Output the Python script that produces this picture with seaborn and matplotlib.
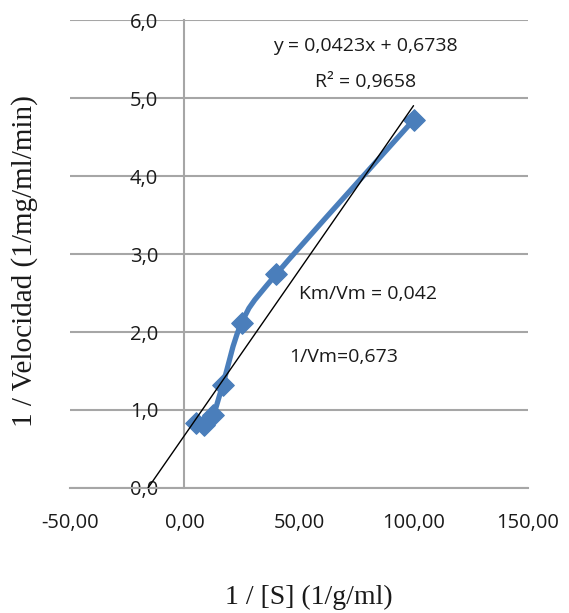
import numpy as np
import pandas as pd
import matplotlib
matplotlib.use("Agg")
import matplotlib.pyplot as plt
from matplotlib.path import Path
from matplotlib.patches import PathPatch
from matplotlib.ticker import FuncFormatter
import seaborn as sns

# data
inv_s = [5.0, 8.33, 12.5, 16.67, 25.0, 40.0, 100.0]
inv_v = [0.83, 0.81, 0.94, 1.32, 2.12, 2.74, 4.72]
slope = 0.0423
intercept = 0.6738
trend_x = [-15.93, 100.0]
x_ticks = [-50, 0, 50, 100, 150]
y_ticks = [0, 1, 2, 3, 4, 5, 6]

df = pd.DataFrame({"inv_s": inv_s, "inv_v": inv_v})

sns.set_style("white")
plt.rcParams["font.family"] = ["Open Sans", "DejaVu Sans"]

blue = "#4A7EBB"
grey = "#A6A6A6"
txt = "#1a1a1a"

fig = plt.figure(figsize=(5.69, 6.13), dpi=100)
ax = fig.add_axes([0.123, 0.204, 0.805, 0.763])

# smoothed line (Excel style bezier through the points)
pts = np.column_stack([inv_s, inv_v])
ext = np.vstack([pts[0], pts, pts[-1]])
verts = [tuple(pts[0])]
codes = [Path.MOVETO]
for i in range(1, len(ext) - 2):
    p0, p1, p2, p3 = ext[i - 1], ext[i], ext[i + 1], ext[i + 2]
    c1 = p1 + (p2 - p0) / 6
    c2 = p2 - (p3 - p1) / 6
    verts += [tuple(c1), tuple(c2), tuple(p2)]
    codes += [Path.CURVE4] * 3
ax.add_patch(PathPatch(Path(verts, codes), fill=False, edgecolor=blue,
                       lw=3.8, capstyle="round", joinstyle="round", zorder=3))

sns.scatterplot(data=df, x="inv_s", y="inv_v", marker="D", s=120,
                color=blue, edgecolor=blue, ax=ax, zorder=4, legend=False)

# linear trendline
tx = np.array(trend_x)
ax.plot(tx, slope * tx + intercept, color="black", lw=1.0, zorder=5)

ax.set_xlim(-50, 150)
ax.set_ylim(0, 6)
ax.set_xticks(x_ticks)
ax.set_yticks(y_ticks)
ax.xaxis.set_major_formatter(FuncFormatter(lambda v, p: f"{v:.2f}".replace(".", ",")))
ax.yaxis.set_major_formatter(FuncFormatter(lambda v, p: f"{v:.1f}".replace(".", ",")))

for s in ["top", "right"]:
    ax.spines[s].set_visible(False)
ax.spines["left"].set_position(("data", 0))
ax.spines["left"].set_color(grey)
ax.spines["bottom"].set_color(grey)
ax.spines["left"].set_linewidth(1.5)
ax.spines["bottom"].set_linewidth(1.5)
ax.yaxis.grid(True, color=grey, lw=1.5)
ax.set_axisbelow(True)
ax.tick_params(axis="x", length=6, width=1.5, color=grey, labelsize=14.5,
               labelcolor=txt, pad=12, direction="out")
ax.tick_params(axis="y", length=0, labelsize=14.5, labelcolor=txt, pad=19)
for lab in ax.get_yticklabels():
    lab.set_zorder(6)
ax.set_xlabel("")
ax.set_ylabel("")

ax.text(0.645, 0.945, "y = 0,0423x + 0,6738", transform=ax.transAxes,
        ha="center", va="center", fontsize=14, color=txt)
ax.text(0.645, 0.868, "R² = 0,9658", transform=ax.transAxes,
        ha="center", va="center", fontsize=14, color=txt)
ax.text(0.500, 0.415, "Km/Vm = 0,042", transform=ax.transAxes,
        ha="left", va="center", fontsize=14, color=txt)
ax.text(0.478, 0.280, "1/Vm=0,673", transform=ax.transAxes,
        ha="left", va="center", fontsize=14, color=txt)

fig.text(309 / 569, 1 - 597 / 613, "1 / [S] (1/g/ml)", family="Liberation Serif",
         fontsize=20, ha="center", va="center", color=txt)
fig.text(25 / 569, 1 - 261 / 613, "1 / Velocidad (1/mg/ml/min)",
         family="Liberation Serif", fontsize=21, rotation=90,
         ha="center", va="center", color=txt)

fig.savefig("out.png", dpi=100)
